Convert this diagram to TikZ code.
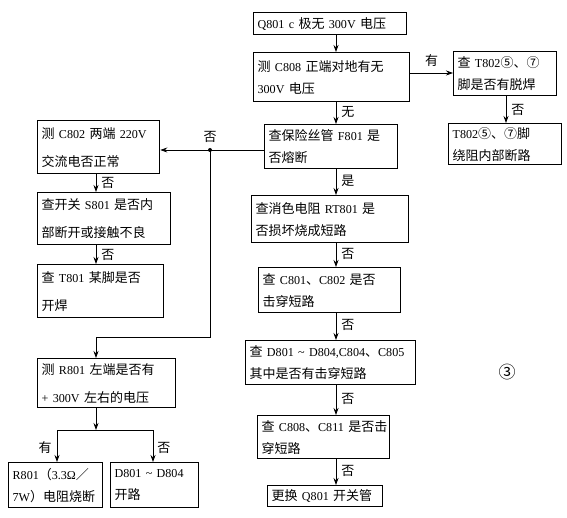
\documentclass[tikz,border=0pt]{standalone}
\usepackage{fontspec}
\setmainfont{Noto Sans CJK SC}
\newfontfamily\latinfont{Liberation Serif}[Scale=0.93]
\usetikzlibrary{arrows.meta,calc}
\newcommand{\ml}[1]{\mbox{#1}}
\newcommand{\lt}[1]{{\latinfont #1}}
\begin{document}
\begin{tikzpicture}[x=1pt,y=-1pt,
  box/.style={draw,line width=1.3pt,anchor=north west,inner xsep=4pt,inner ysep=0pt,align=left,
    font=\fontsize{13}{22}\selectfont},
  loose/.style={font=\fontsize{13}{28}\selectfont},
  arr/.style={line width=0.8pt,-{Stealth[length=7pt,width=5pt]}},
  ln/.style={line width=0.8pt},
  lab/.style={font=\fontsize{13}{14}\selectfont,inner sep=0pt}]
\useasboundingbox (0,0) rectangle (567,518);
% centre column
\node[box,minimum width=153pt,minimum height=22pt,text width=145pt] (b1) at (253,12) {\ml{\lt{Q801 c} 极无 \lt{300V} 电压}};
\node[box,minimum width=156pt,minimum height=49pt,text width=148pt] (b2) at (253,52) {\ml{测 \lt{C808} 正端对地有无}\\\ml{\lt{300V} 电压}};
\node[box,minimum width=103pt,minimum height=44pt,text width=95pt] (b3) at (453,51) {\ml{查 \lt{T802}⑤、⑦}\\\ml{脚是否有脱焊}};
\node[box,minimum width=113pt,minimum height=41pt,text width=105pt] (b4) at (448,123) {\ml{\lt{T802}⑤、⑦脚}\\\ml{绕阻内部断路}};
\node[box,minimum width=133pt,minimum height=44pt,text width=125pt] (b5) at (264,124) {\ml{查保险丝管 \lt{F801} 是}\\\ml{否熔断}};
\node[box,minimum width=157pt,minimum height=47pt,text width=149pt] (b6) at (251,195) {\ml{查消色电阻 \lt{RT801} 是}\\\ml{否损坏烧成短路}};
\node[box,minimum width=142pt,minimum height=45pt,text width=134pt] (b7) at (258,267) {\ml{查 \lt{C801}、\lt{C802} 是否}\\\ml{击穿短路}};
\node[box,minimum width=170pt,minimum height=44pt,text width=162pt] (b8) at (245,340) {\ml{查 \lt{D801 \textasciitilde{} D804,C804}、\lt{C805}}\\\ml{其中是否有击穿短路}};
\node[box,minimum width=132pt,minimum height=43pt,text width=124pt] (b9) at (257,415) {\ml{查 \lt{C808}、\lt{C811} 是否击}\\\ml{穿短路}};
\node[box,minimum width=115pt,minimum height=21pt,text width=107pt] (b10) at (267,485) {\ml{更换 \lt{Q801} 开关管}};
% left column
\node[box,loose,minimum width=122pt,minimum height=53pt,text width=114pt] (l1) at (37,120) {\ml{测 \lt{C802} 两端 \lt{220V}}\\\ml{交流电否正常}};
\node[box,loose,minimum width=133pt,minimum height=52pt,text width=125pt] (l2) at (37,192) {\ml{查开关 \lt{S801} 是否内}\\\ml{部断开或接触不良}};
\node[box,loose,minimum width=126pt,minimum height=53pt,text width=118pt] (l3) at (37,264) {\ml{查 \lt{T801} 某脚是否}\\\ml{开焊}};
\node[box,loose,minimum width=138pt,minimum height=49pt,text width=130pt] (l4) at (37,358) {\ml{测 \lt{R801} 左端是否有}\\\ml{\lt{+ 300V} 左右的电压}};
\node[box,minimum width=94pt,minimum height=45pt,text width=86pt] (l5) at (8,462) {\ml{\lt{R801}（\lt{3.3Ω}／}\\\ml{\lt{7W}）电阻烧断}};
\node[box,minimum width=88pt,minimum height=45pt,text width=80pt] (l6) at (110,462) {\ml{\lt{D801 \textasciitilde{} D804}}\\\ml{开路}};
\node[font=\fontsize{17}{17}\selectfont,inner sep=0pt] (n3) at (507,372) {③};
% helper coordinates
\coordinate (xc) at (336,0);
\coordinate (xl) at (96,0);
\coordinate (dot) at (210,150);
\coordinate (turn1) at (210,337);
\coordinate (turn2) at (96,337);
\coordinate (jn) at (96,430);
\coordinate (jl) at (57,430);
\coordinate (jr) at (153,430);
% connectors
\draw[arr] (b1.south -| xc) -- (b2.north -| xc);
\draw[arr] (b2.south -| xc) -- node[lab,right=5pt,pos=0.45]{无} (b5.north -| xc);
\draw[arr] (b5.south -| xc) -- node[lab,right=5pt,pos=0.45]{是} (b6.north -| xc);
\draw[arr] (b6.south -| xc) -- node[lab,right=5pt,pos=0.45]{否} (b7.north -| xc);
\draw[arr] (b7.south -| xc) -- node[lab,right=5pt,pos=0.45]{否} (b8.north -| xc);
\draw[arr] (b8.south -| xc) -- node[lab,right=5pt,pos=0.45]{否} (b9.north -| xc);
\draw[arr] (b9.south -| xc) -- node[lab,right=5pt,pos=0.45]{否} (b10.north -| xc);
\draw[arr] (b2.east |- 0,73) -- node[lab,above=6pt]{有} (b3.west |- 0,73);
\draw[arr] (b3.south -| 506,0) -- node[lab,right=5pt]{否} (b4.north -| 506,0);
\draw[arr] (b5.west |- dot) -- (l1.east |- dot);
\node[lab] (lno) at (210,137) {否};
\fill (dot) circle (2pt);
\draw[ln] (dot) -- (turn1) -- (turn2);
\draw[arr] (turn2) -- (l4.north -| xl);
\draw[arr] (l1.south -| xl) -- node[lab,right=5pt]{否} (l2.north -| xl);
\draw[arr] (l2.south -| xl) -- node[lab,right=5pt]{否} (l3.north -| xl);
\draw[arr] (l4.south -| xl) -- (jn);
\draw[ln] (jl) -- (jr);
\draw[arr] (jl) -- node[lab,left=5pt,pos=0.55]{有} (l5.north -| jl);
\draw[arr] (jr) -- node[lab,right=4pt,pos=0.55]{否} (l6.north -| jr);
\end{tikzpicture}
\end{document}
